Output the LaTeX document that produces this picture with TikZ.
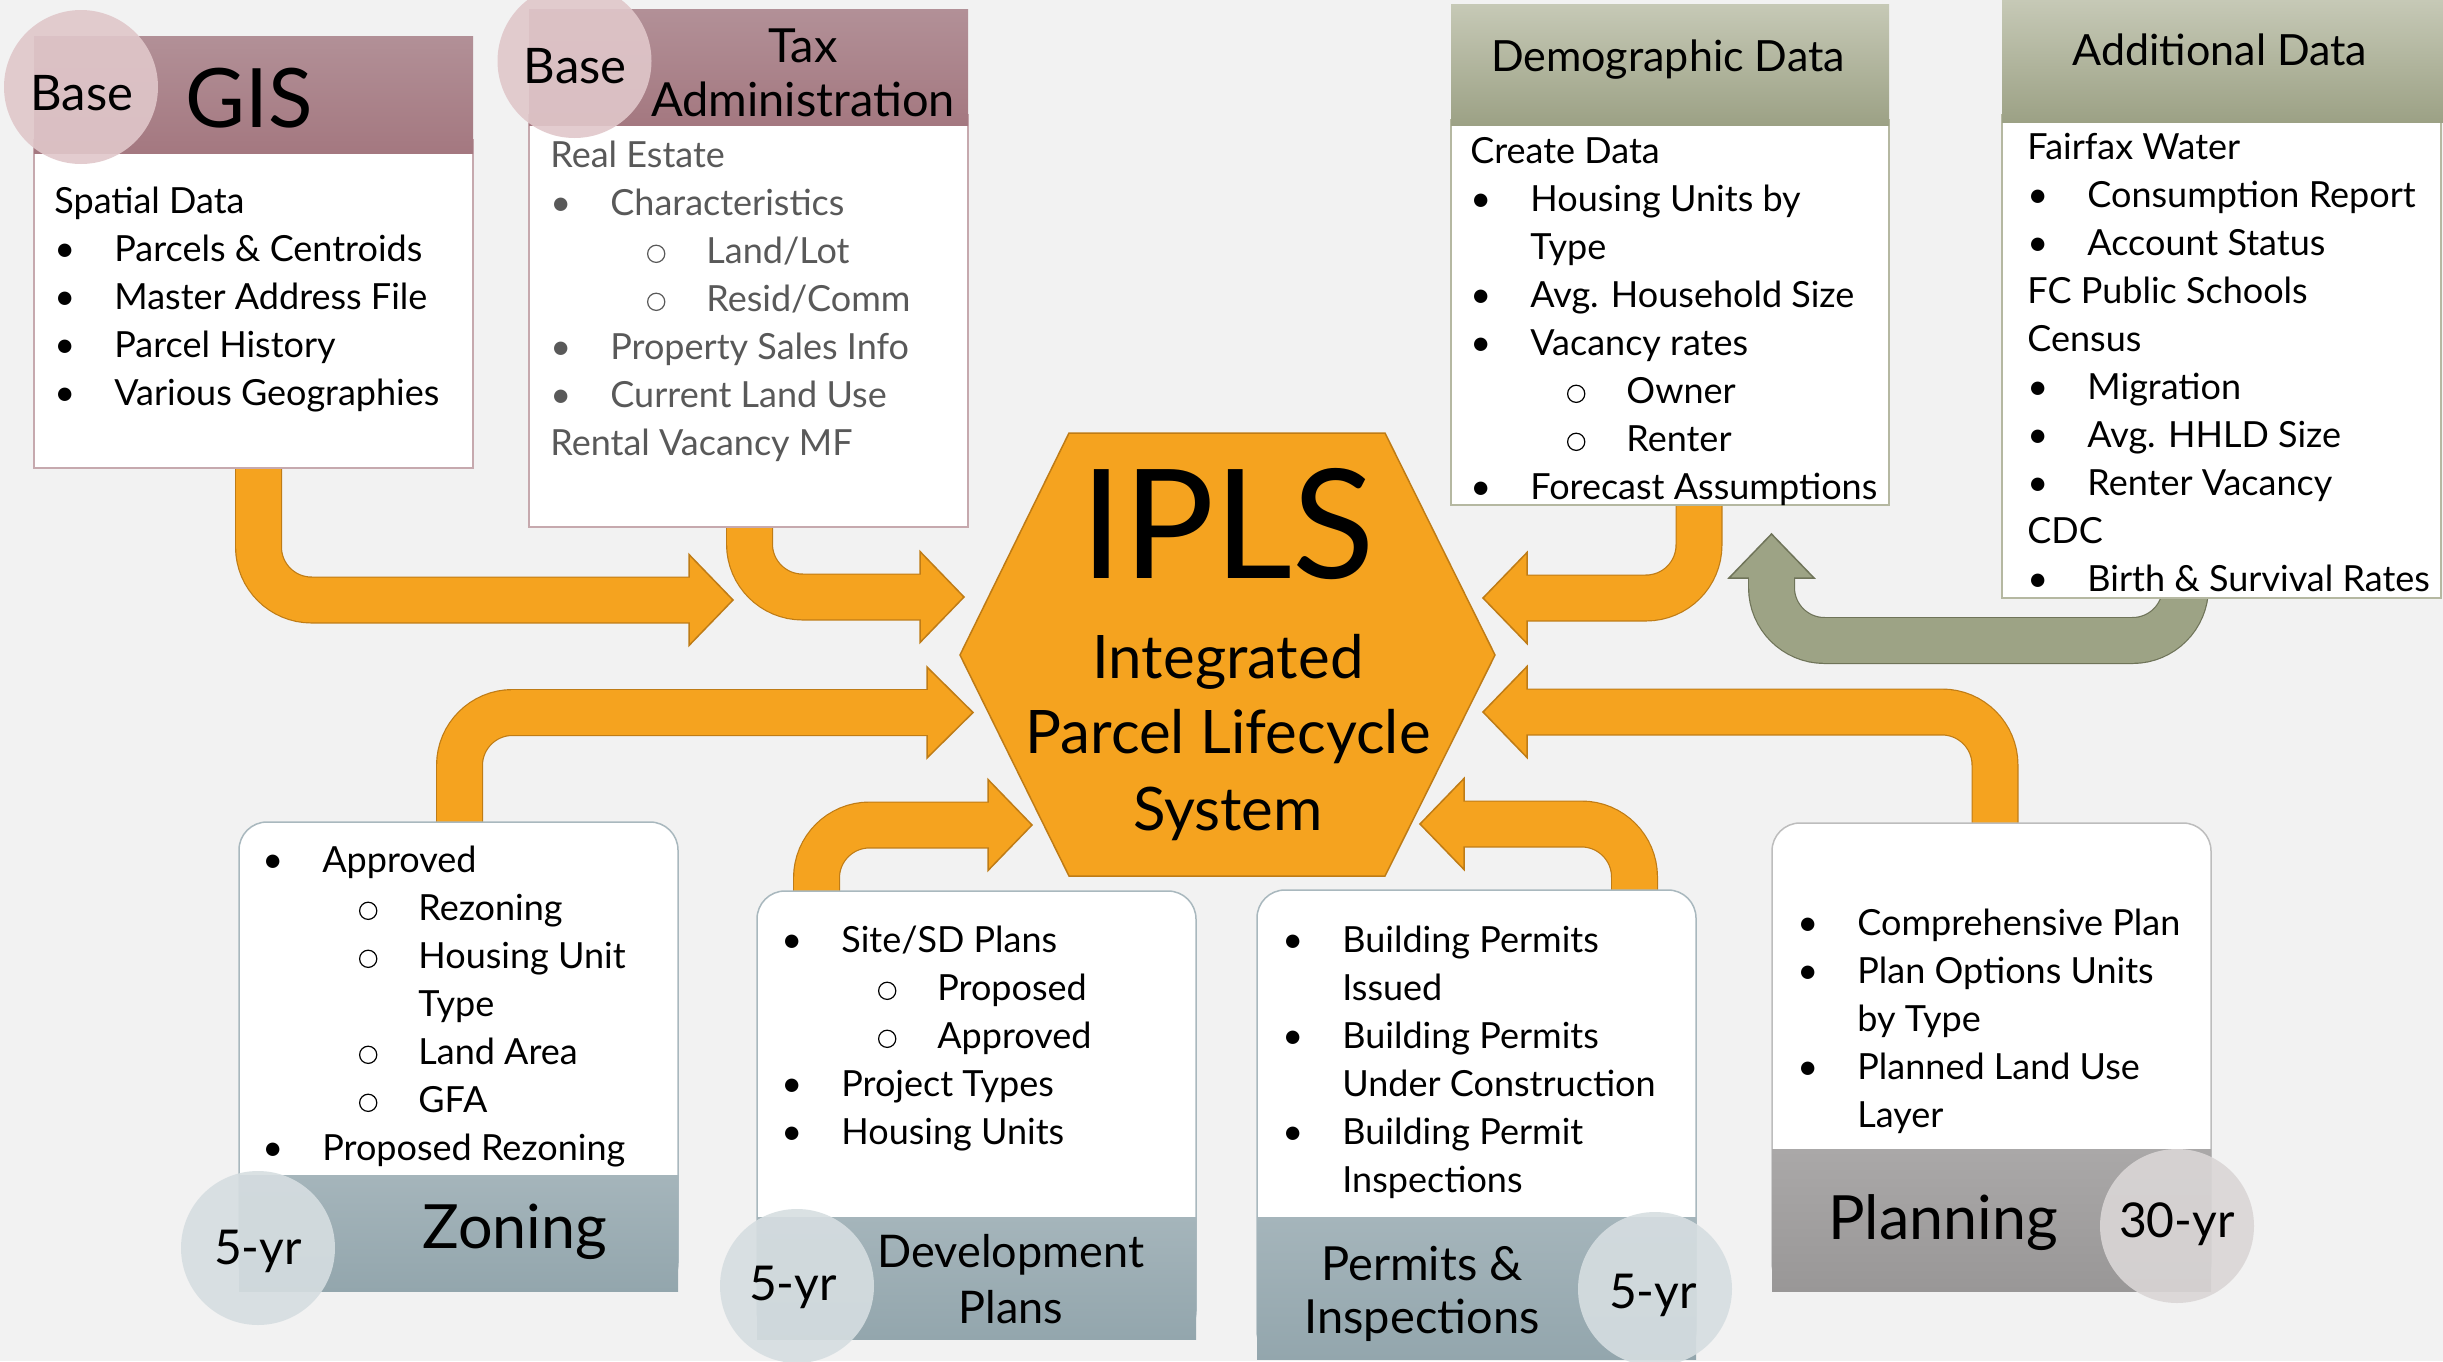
\documentclass[tikz,border=0pt]{standalone}
\usepackage{fontspec}
\setmainfont{Lato}
\definecolor{bgc}{HTML}{F2F2F2}
\definecolor{orf}{HTML}{F5A31F}
\definecolor{orb}{HTML}{BF7C16}
\definecolor{grf}{HTML}{9DA385}
\definecolor{grb}{HTML}{6F7459}
\definecolor{pinkT}{HTML}{B29097}
\definecolor{pinkB}{HTML}{A47880}
\definecolor{pinkBd}{HTML}{C6A9AE}
\definecolor{pinkC}{HTML}{E0C7CA}
\definecolor{sageT}{HTML}{C6C9B6}
\definecolor{sageB}{HTML}{9CA185}
\definecolor{sageBd}{HTML}{B5B8A1}
\definecolor{blueT}{HTML}{A5B5BB}
\definecolor{blueB}{HTML}{93A6AD}
\definecolor{blueBd}{HTML}{A9B8BE}
\definecolor{blueC}{HTML}{D6DEE1}
\definecolor{grayT}{HTML}{AAA8A8}
\definecolor{grayB}{HTML}{999797}
\definecolor{grayBd}{HTML}{BDBDBD}
\definecolor{grayC}{HTML}{DAD6D6}
\definecolor{taxtext}{HTML}{595959}

\newlength\ii \newlength\so \newlength\si
\setlength\ii{30pt}\setlength\so{47.5pt}\setlength\si{78pt}
\newcommand\subc{\tikz[baseline=0pt]\draw[line width=0.6pt, draw=.] (0pt,4.6pt) circle[radius=4.3pt];}
\newcommand\Pl[1]{\hbox{#1}}
\newcommand\Bu[1]{\hbox{\makebox[\ii][l]{\textbullet}#1}}
\newcommand\Sb[1]{\hbox{\hspace{\so}\makebox[\dimexpr\si-\so\relax][l]{\hspace{0.8pt}\subc}#1}}
\newcommand\Ci[1]{\hbox{\hspace{\ii}#1}}
\newcommand\Cs[1]{\hbox{\hspace{\si}#1}}
\newcommand\Lines[1]{\vtop{\baselineskip=24pt\lineskiplimit=-\maxdimen\lineskip=0pt #1}}

\tikzset{
  shout/.style={draw=orb, line width=23.5pt, rounded corners=26.5pt},
  shin/.style={draw=orf, line width=22.3pt, rounded corners=26.5pt},
  ohead/.style={fill=orf, draw=orb, line width=0.75pt, line join=miter},
  gshout/.style={draw=grb, line width=23.5pt, rounded corners=26.5pt},
  gshin/.style={draw=grf, line width=22.3pt, rounded corners=26.5pt},
  ghead/.style={fill=grf, draw=grb, line width=0.75pt, line join=miter},
  bodytext/.style={anchor=base west, inner sep=0pt, font=\fontsize{18pt}{24pt}\selectfont},
  ttl/.style={anchor=base, inner sep=0pt},
  badge/.style={fill opacity=0.9},
}

\begin{document}
\begin{tikzpicture}[x=0.5pt,y=-0.5pt]
\fill[bgc] (0,0) rectangle (2443,1361);
\useasboundingbox (0,0) rectangle (2443,1361);

% ---------- orange arrows ----------
% GIS -> IPLS
\draw[shout] (258.5,455) -- (258.5,600) -- (689,600);
\draw[ohead] (689,554.5) -- (733,600) -- (689,645.5) -- cycle;
\draw[shin] (258.5,455) -- (258.5,600) -- (691,600);
% Tax -> IPLS
\draw[shout] (749.5,515) -- (749.5,597) -- (920,597);
\draw[ohead] (920,551.5) -- (964,597) -- (920,642.5) -- cycle;
\draw[shin] (749.5,515) -- (749.5,597) -- (922,597);
% Zoning -> IPLS
\draw[shout] (459.5,835) -- (459.5,712.5) -- (927,712.5);
\draw[ohead] (927,667) -- (973,712.5) -- (927,758) -- cycle;
\draw[shin] (459.5,835) -- (459.5,712.5) -- (929,712.5);
% Development -> IPLS
\draw[shout] (816.5,905) -- (816.5,825) -- (988,825);
\draw[ohead] (988,779.5) -- (1032,825) -- (988,870.5) -- cycle;
\draw[shin] (816.5,905) -- (816.5,825) -- (990,825);
% Demographic -> IPLS
\draw[shout] (1699,495) -- (1699,598) -- (1527,598);
\draw[ohead] (1527,552.5) -- (1483,598) -- (1527,643.5) -- cycle;
\draw[shin] (1699,495) -- (1699,598) -- (1525,598);
% Planning -> IPLS
\draw[shout] (1995,835) -- (1995,712) -- (1527,712);
\draw[ohead] (1527,666.5) -- (1483,712) -- (1527,757.5) -- cycle;
\draw[shin] (1995,835) -- (1995,712) -- (1525,712);
% Permits -> IPLS
\draw[shout] (1634.5,905) -- (1634.5,824) -- (1464,824);
\draw[ohead] (1464,778.5) -- (1420,824) -- (1464,869.5) -- cycle;
\draw[shin] (1634.5,905) -- (1634.5,824) -- (1462,824);
% Additional -> Demographic (green)
\draw[gshout] (2185.5,560) -- (2185.5,640.5) -- (1771.5,640.5) -- (1771.5,578);
\draw[ghead] (1729,578) -- (1771.5,534) -- (1814,578) -- cycle;
\draw[gshin] (2185.5,560) -- (2185.5,640.5) -- (1771.5,640.5) -- (1771.5,576);

% ---------- hexagon ----------
\filldraw[fill=orf, draw=orb, line width=0.75pt, line join=miter]
  (1069,433) -- (1385,433) -- (1495,655) -- (1385,876) -- (1069,876) -- (960,655) -- cycle;
\node[ttl, font=\fontsize{76pt}{76pt}\selectfont] (ipls) at (1228,578) {IPLS};
\node[ttl, font=\fontsize{30pt}{30pt}\selectfont] (ipls1) at (1228,678) {Integrated};
\node[ttl, font=\fontsize{30pt}{30pt}\selectfont] (ipls2) at (1228,753) {Parcel Lifecycle};
\node[ttl, font=\fontsize{30pt}{30pt}\selectfont] (ipls3) at (1228,830) {System};

% ---------- GIS ----------
\filldraw[fill=white, draw=pinkBd, line width=0.75pt] (34,140) rectangle (473,468);
\shade[top color=pinkT, bottom color=pinkB] (34,36) rectangle (473,153);
\fill[pinkC, badge] (81,87) circle[radius=38.5pt];
\node[ttl, font=\fontsize{24.5pt}{24.5pt}\selectfont] (gisbase) at (82,110) {Base};
\node[ttl, font=\fontsize{41pt}{41pt}\selectfont] (gist) at (249,127) {GIS};
\node[bodytext] (gisb) at (54,213) {\Lines{%
  \Pl{Spatial Data}
  \Bu{Parcels \& Centroids}
  \Bu{Master Address File}
  \Bu{Parcel History}
  \Bu{Various Geographies}}};

% ---------- Tax ----------
\filldraw[fill=white, draw=pinkBd, line width=0.75pt] (529,115) rectangle (968,527);
\shade[top color=pinkT, bottom color=pinkB] (529,9.5) rectangle (968,125);
\fill[pinkC, badge] (574.5,61) circle[radius=38.5pt];
\node[ttl, font=\fontsize{24.5pt}{24.5pt}\selectfont] (taxbase) at (575,83) {Base};
\node[ttl, font=\fontsize{23.5pt}{23.5pt}\selectfont] (taxt1) at (803,62) {Tax};
\node[ttl, font=\fontsize{23.5pt}{23.5pt}\selectfont] (taxt2) at (803,116) {Administration};
\node[bodytext, text=taxtext] (taxb) at (550,167) {\Lines{%
  \Pl{Real Estate}
  \Bu{Characteristics}
  \Sb{Land/Lot}
  \Sb{Resid/Comm}
  \Bu{Property Sales Info}
  \Bu{Current Land Use}
  \Pl{Rental Vacancy MF}}};

% ---------- Demographic ----------
\filldraw[fill=white, draw=sageBd, line width=0.75pt] (1451,120) rectangle (1889,505);
\shade[top color=sageT, bottom color=sageB] (1451,4) rectangle (1889,125);
\node[ttl, font=\fontsize{21.5pt}{21.5pt}\selectfont] (demot) at (1668,71) {Demographic Data};
\node[bodytext] (demob) at (1470,163) {\Lines{%
  \Pl{Create Data}
  \Bu{Housing Units by}
  \Ci{Type}
  \Bu{Avg. Household Size}
  \Bu{Vacancy rates}
  \Sb{Owner}
  \Sb{Renter}
  \Bu{Forecast Assumptions}}};

% ---------- Additional ----------
\filldraw[fill=white, draw=sageBd, line width=0.75pt] (2002,115) rectangle (2441,598);
\shade[top color=sageT, bottom color=sageB] (2002,0) rectangle (2443,122);
\node[ttl, font=\fontsize{21.5pt}{21.5pt}\selectfont] (addt) at (2220,65) {Additional Data};
\node[bodytext] (addb) at (2027,159) {\Lines{%
  \Pl{Fairfax Water}
  \Bu{Consumption Report}
  \Bu{Account Status}
  \Pl{FC Public Schools}
  \Pl{Census}
  \Bu{Migration}
  \Bu{Avg. HHLD Size}
  \Bu{Renter Vacancy}
  \Pl{CDC}
  \Bu{Birth \& Survival Rates}}};

% ---------- Zoning ----------
\filldraw[fill=white, draw=blueBd, line width=0.75pt, rounded corners=14pt]
  (239,1291) -- (239,822) -- (678,822) -- (678,1291) -- cycle;
\shade[top color=blueT, bottom color=blueB] (239,1175) rectangle (678,1291);
\fill[blueC, badge] (258,1248) circle[radius=38.5pt];
\node[ttl, font=\fontsize{24pt}{24pt}\selectfont] (zonyr) at (258,1264) {5-yr};
\node[ttl, font=\fontsize{30.5pt}{30.5pt}\selectfont] (zont) at (515,1248) {Zoning};
\node[bodytext] (zonb) at (262,872) {\Lines{%
  \Bu{Approved}
  \Sb{Rezoning}
  \Sb{Housing Unit}
  \Cs{Type}
  \Sb{Land Area}
  \Sb{GFA}
  \Bu{Proposed Rezoning}}};

% ---------- Development Plans ----------
\filldraw[fill=white, draw=blueBd, line width=0.75pt, rounded corners=14pt]
  (757,1339) -- (757,891) -- (1196,891) -- (1196,1339) -- cycle;
\shade[top color=blueT, bottom color=blueB] (757,1217) rectangle (1196,1339);
\fill[blueC, badge] (797,1286) circle[radius=38.5pt];
\node[ttl, font=\fontsize{24pt}{24pt}\selectfont] (devyr) at (793,1300) {5-yr};
\node[ttl, font=\fontsize{22.5pt}{22.5pt}\selectfont] (devt1) at (1011,1267) {Development};
\node[ttl, font=\fontsize{22.5pt}{22.5pt}\selectfont] (devt2) at (1011,1323) {Plans};
\node[bodytext] (devb) at (781,952) {\Lines{%
  \Bu{Site/SD Plans}
  \Sb{Proposed}
  \Sb{Approved}
  \Bu{Project Types}
  \Bu{Housing Units}}};

% ---------- Permits & Inspections ----------
\filldraw[fill=white, draw=blueBd, line width=0.75pt, rounded corners=14pt]
  (1257,1359) -- (1257,890) -- (1696,890) -- (1696,1359) -- cycle;
\shade[top color=blueT, bottom color=blueB] (1257,1217) rectangle (1696,1359);
\fill[blueC, badge] (1655,1289) circle[radius=38.5pt];
\node[ttl, font=\fontsize{24pt}{24pt}\selectfont] (peryr) at (1653,1308) {5-yr};
\node[ttl, font=\fontsize{23.5pt}{23.5pt}\selectfont] (pert1) at (1422,1280) {Permits \&};
\node[ttl, font=\fontsize{23.5pt}{23.5pt}\selectfont] (pert2) at (1422,1333) {Inspections};
\node[bodytext] (perb) at (1282,952) {\Lines{%
  \Bu{Building Permits}
  \Ci{Issued}
  \Bu{Building Permits}
  \Ci{Under Construction}
  \Bu{Building Permit}
  \Ci{Inspections}}};

% ---------- Planning ----------
\filldraw[fill=white, draw=grayBd, line width=0.75pt, rounded corners=14pt]
  (1772,1291) -- (1772,823) -- (2211,823) -- (2211,1291) -- cycle;
\shade[top color=grayT, bottom color=grayB] (1772,1149) rectangle (2211,1291);
\fill[grayC, badge] (2177,1226) circle[radius=38.5pt];
\node[ttl, font=\fontsize{24pt}{24pt}\selectfont] (planyr) at (2177,1237) {30-yr};
\node[ttl, font=\fontsize{30.5pt}{30.5pt}\selectfont] (plant) at (1943,1239) {Planning};
\node[bodytext] (planb) at (1797,935) {\Lines{%
  \Bu{Comprehensive Plan}
  \Bu{Plan Options Units}
  \Ci{by Type}
  \Bu{Planned Land Use}
  \Ci{Layer}}};
\end{tikzpicture}
\end{document}
